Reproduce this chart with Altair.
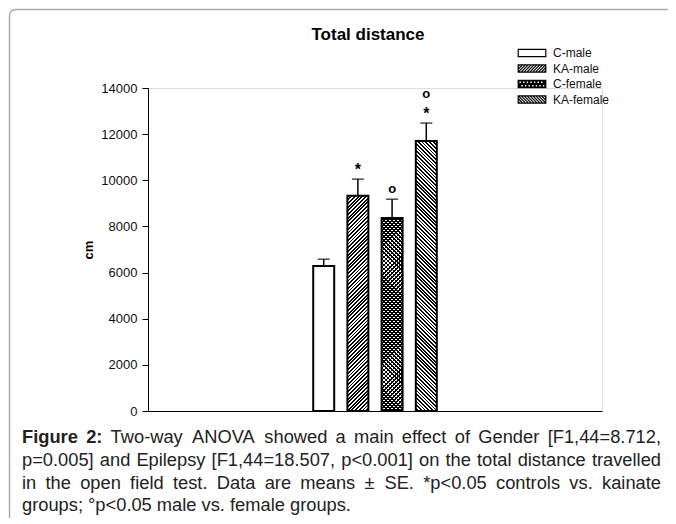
import altair as alt
import pandas as pd

# ---------------- data ----------------
groups = ["C-male", "KA-male", "C-female", "KA-female"]
means = [6280, 9330, 8360, 11700]
ses = [300, 720, 820, 780]
stars = ["", "*", "", "*"]       # p<0.05 controls vs. kainate
circles = ["", "", "o", "o"]     # p<0.05 male vs. female
y_ticks = [0, 2000, 4000, 6000, 8000, 10000, 12000, 14000]
chart_title = "Total distance"
y_title = "cm"
cap_bold = ["Figure", "2:"]
cap_lines = [
    "Two-way ANOVA showed a main effect of Gender [F1,44=8.712,",
    "p=0.005] and Epilepsy [F1,44=18.507, p<0.001] on the total distance travelled",
    "in the open field test. Data are means \u00b1 SE.  *p<0.05 controls vs. kainate",
    "groups; \u00b0p<0.05 male vs. female groups.",
]

df = pd.DataFrame({
    "test": [chart_title] * len(groups),
    "group": groups,
    "mean": means,
    "upper": [m + s for m, s in zip(means, ses)],
    "star": stars,
    "circ": circles,
})

# ---------------- layout / style ----------------
W_PLOT, H_PLOT = 454, 323
Y_MAX = 14000
FONT = "Liberation Sans"
PI_X, PO_X = 0.252, 1.0
PI_O = 0.386

step_x = W_PLOT / (1 - PI_X + 2 * PO_X)
band_x = step_x * (1 - PI_X)
bar_w = band_x / (len(groups) - PI_O) * (1 - PI_O)


def stripe_grad(W, H, period, frac, kind, ink="black", paper="white"):
    L = W + H
    n = max(1, round(L / period))
    stops = []
    for i in range(n):
        a = round(i / n, 6)
        b = round((i + frac) / n, 6)
        c = round((i + 1) / n, 6)
        stops += [
            {"offset": a, "color": ink},
            {"offset": b, "color": ink},
            {"offset": b, "color": paper},
            {"offset": c, "color": paper},
        ]
    k = L / (W * W + H * H)
    if kind == "/":
        x1, y1, x2, y2 = 0, 0, k * W, k * H
    else:
        x1, y1, x2, y2 = 1, 0, 1 - k * W, k * H
    return {"gradient": "linear", "x1": x1, "y1": y1, "x2": x2, "y2": y2, "stops": stops}


# legend swatch paths (unit = sqrt(size)/2 px)
LA, LB = 3.45, 0.9


def f3(v):
    return f"{v:.3f}"


def rect_path():
    return f"M{f3(-LA)},{f3(-LB)}H{f3(LA)}V{f3(LB)}H{f3(-LA)}Z"


def hatch_path(kind, d=0.72):
    p = rect_path()
    c = -(LA + LB) + d / 2
    while c < LA + LB:
        if kind == "/":
            lo, hi = max(-LA, c - LB), min(LA, c + LB)
            if hi - lo > 0.05:
                p += f"M{f3(lo)},{f3(c - lo)}L{f3(hi)},{f3(c - hi)}"
        else:
            lo, hi = max(-LA, -LB - c), min(LA, LB - c)
            if hi - lo > 0.05:
                p += f"M{f3(lo)},{f3(lo + c)}L{f3(hi)},{f3(hi + c)}"
        c += d
    return p


def dots_path(h=0.33, dx=0.9):
    p = rect_path()
    for j, cy in enumerate([-0.45, 0.45]):
        cx = -LA + 0.5 + (j % 2) * dx / 2
        while cx + h < LA - 0.2:
            p += (f"M{f3(cx - h)},{f3(cy - h)}V{f3(cy + h)}"
                  f"H{f3(cx + h)}V{f3(cy - h)}Z")
            cx += dx
    return p


legend_shapes = [rect_path(), hatch_path("/"), dots_path(), hatch_path("\\")]
legend_fills = ["white", "white", "black", "white"]
legend_strokes = ["black"] * 4

x_enc = alt.X("test:N", title=None,
              scale=alt.Scale(paddingInner=PI_X, paddingOuter=PO_X),
              axis=alt.Axis(labels=False, ticks=False, title=None, grid=False,
                            domainColor="black", domainWidth=1))
xo_enc = alt.XOffset("group:N", sort=groups,
                     scale=alt.Scale(domain=groups, paddingInner=PI_O, paddingOuter=0))
y_scale = alt.Scale(domain=[0, Y_MAX], nice=False)
y_enc = alt.Y("mean:Q", scale=y_scale,
              axis=alt.Axis(values=y_ticks, title=y_title, format="d", grid=False,
                            labelFont=FONT, labelFontSize=13, labelColor="#111",
                            titleFont=FONT, titleFontSize=13, titleFontWeight="bold",
                            titleColor="black", titlePadding=5,
                            tickSize=6, tickColor="black", tickWidth=1,
                            domainColor="black", domainWidth=1, labelPadding=5))

base = alt.Chart(df)

legend_spec = alt.Legend(title=None, orient="none", legendX=378, legendY=-41,
                         direction="vertical", padding=0, rowPadding=3.5,
                         labelOffset=15, labelFont=FONT, labelFontSize=12,
                         labelColor="#111", symbolSize=64, symbolOpacity=1,
                         symbolStrokeColor="black", symbolStrokeWidth=1.2)

legend_layer = base.mark_point(filled=True, opacity=0, size=64, strokeWidth=1.2).encode(
    x=x_enc, xOffset=xo_enc, y=y_enc,
    fill=alt.Fill("group:N", sort=groups,
                  scale=alt.Scale(domain=groups, range=legend_fills), legend=legend_spec),
    shape=alt.Shape("group:N", sort=groups,
                    scale=alt.Scale(domain=groups, range=legend_shapes), legend=legend_spec),
    stroke=alt.Stroke("group:N", sort=groups,
                      scale=alt.Scale(domain=groups, range=legend_strokes), legend=legend_spec),
)

layers = [legend_layer]


def bar_layer(gname, fill):
    return base.transform_filter(alt.datum.group == gname).mark_bar(
        fill=fill, strokeWidth=0).encode(x=x_enc, xOffset=xo_enc, y=y_enc)


for g, m in zip(groups, means):
    H = m / Y_MAX * H_PLOT
    if g == "C-male":
        layers.append(bar_layer(g, "white"))
    elif g == "KA-male":
        layers.append(bar_layer(g, stripe_grad(bar_w, H, 3.7, 0.5, "/")))
    elif g == "KA-female":
        layers.append(bar_layer(g, stripe_grad(bar_w, H, 3.7, 0.5, "\\")))
    else:
        layers.append(bar_layer(g, stripe_grad(bar_w, H, 4.0, 0.45, "/")))
        layers.append(bar_layer(g, stripe_grad(bar_w, H, 4.0, 0.45, "\\",
                                                paper="rgba(0,0,0,0)")))

outline = base.mark_bar(fillOpacity=0, stroke="black", strokeWidth=2).encode(
    x=x_enc, xOffset=xo_enc, y=y_enc)
err = base.mark_rule(color="black", strokeWidth=1.5).encode(
    x=x_enc, xOffset=xo_enc, y=y_enc, y2="upper:Q")
cap = base.mark_tick(color="black", size=12, thickness=1.5, orient="horizontal").encode(
    x=x_enc, xOffset=xo_enc, y=alt.Y("upper:Q", scale=y_scale))

# significance marks: star just above the error bar, circle above the star (if any)
SIG_LH = 19
star_txt = base.mark_text(font=FONT, fontSize=16, fontWeight="bold", color="black",
                          baseline="bottom", dy=-1).encode(
    x=x_enc, xOffset=xo_enc, y=alt.Y("upper:Q", scale=y_scale), text="star:N")
circ_txt = base.transform_calculate(
    circtxt="datum.star != '' ? datum.circ + '\\n' : '\\n' + datum.circ"
).mark_text(font=FONT, fontSize=13, fontWeight="bold", color="black",
            baseline="bottom", dy=-3 - SIG_LH, lineBreak="\n", lineHeight=SIG_LH).encode(
    x=x_enc, xOffset=xo_enc, y=alt.Y("upper:Q", scale=y_scale), text="circtxt:N")

layers += [outline, err, cap, star_txt, circ_txt]

# title
title_layer = alt.Chart(pd.DataFrame({"t": [chart_title]})).mark_text(
    font=FONT, fontSize=17, fontWeight="bold", color="black",
    align="center", baseline="alphabetic").encode(
    text="t:N", x=alt.value(220), y=alt.value(-48))
layers.append(title_layer)

# figure frame
frame = alt.Chart(pd.DataFrame({"k": [0]})).mark_rect(
    fillOpacity=0, stroke="#aaaaaa", strokeWidth=1.5, cornerRadius=6).encode(
    x=alt.value(-138.5), y=alt.value(-78.5), x2=alt.value(700), y2=alt.value(600))
layers.append(frame)

# ---------------- caption (justified lines) ----------------
CAP_FS = 18.3
CAP_X0, CAP_X1 = -126, 513      # left / right edges of the text block
cap_base = [355, 378, 401, 423]

AW = {' ': 278, '!': 278, '"': 355, '#': 556, '$': 556, '%': 889, '&': 667, "'": 191,
      '(': 333, ')': 333, '*': 389, '+': 584, ',': 278, '-': 333, '.': 278, '/': 278,
      ':': 278, ';': 278, '<': 584, '=': 584, '>': 584, '?': 556, '[': 278, ']': 278,
      'A': 667, 'B': 667, 'C': 722, 'D': 722, 'E': 667, 'F': 611, 'G': 778, 'H': 722,
      'I': 278, 'J': 500, 'K': 667, 'L': 556, 'M': 833, 'N': 722, 'O': 778, 'P': 667,
      'Q': 778, 'R': 722, 'S': 667, 'T': 611, 'U': 722, 'V': 667, 'W': 944, 'X': 667,
      'Y': 667, 'Z': 611, 'a': 556, 'b': 556, 'c': 500, 'd': 556, 'e': 556, 'f': 278,
      'g': 556, 'h': 556, 'i': 222, 'j': 222, 'k': 500, 'l': 222, 'm': 833, 'n': 556,
      'o': 556, 'p': 556, 'q': 556, 'r': 333, 's': 500, 't': 278, 'u': 556, 'v': 500,
      'w': 722, 'x': 500, 'y': 500, 'z': 500, '\u00b1': 584, '\u00b0': 400}
for dch in "0123456789":
    AW[dch] = 556
BW = {'F': 611, 'i': 278, 'g': 611, 'u': 611, 'r': 389, 'e': 556, '2': 556, ':': 333}


def word_w(w, bold=False):
    tab = BW if bold else AW
    return sum(tab.get(ch, 556) for ch in w) / 1000 * CAP_FS


def cap_word(txt, x, y, bold=False, align="left"):
    return alt.Chart(pd.DataFrame({"t": [txt]})).mark_text(
        font=FONT, fontSize=CAP_FS, fontWeight="bold" if bold else "normal",
        color="#222", align=align, baseline="alphabetic").encode(
        text="t:N", x=alt.value(round(x, 2)), y=alt.value(y))


for li, line in enumerate(cap_lines):
    words = [(w, False) for w in line.split(" ") if w != ""]
    if li == 0:
        words = [(w, True) for w in cap_bold] + words
    if li < len(cap_lines) - 1:
        total = sum(word_w(w, b) for w, b in words)
        gap = (CAP_X1 - CAP_X0 - total) / (len(words) - 1)
        x = CAP_X0
        for wi, (w, b) in enumerate(words):
            if wi == len(words) - 1:
                layers.append(cap_word(w, CAP_X1, cap_base[li], b, align="right"))
            else:
                layers.append(cap_word(w, x, cap_base[li], b))
            x += word_w(w, b) + gap
    else:
        layers.append(cap_word(line, CAP_X0, cap_base[li]))

chart = alt.layer(*layers).properties(
    width=W_PLOT, height=H_PLOT,
    autosize=alt.AutoSizeParams(type="none"),
    padding={"left": 140, "top": 80, "right": 66, "bottom": 107},
).configure_view(stroke="transparent").configure(background="white")

chart.save("out.html", embed_options={"renderer": "svg", "actions": False})
